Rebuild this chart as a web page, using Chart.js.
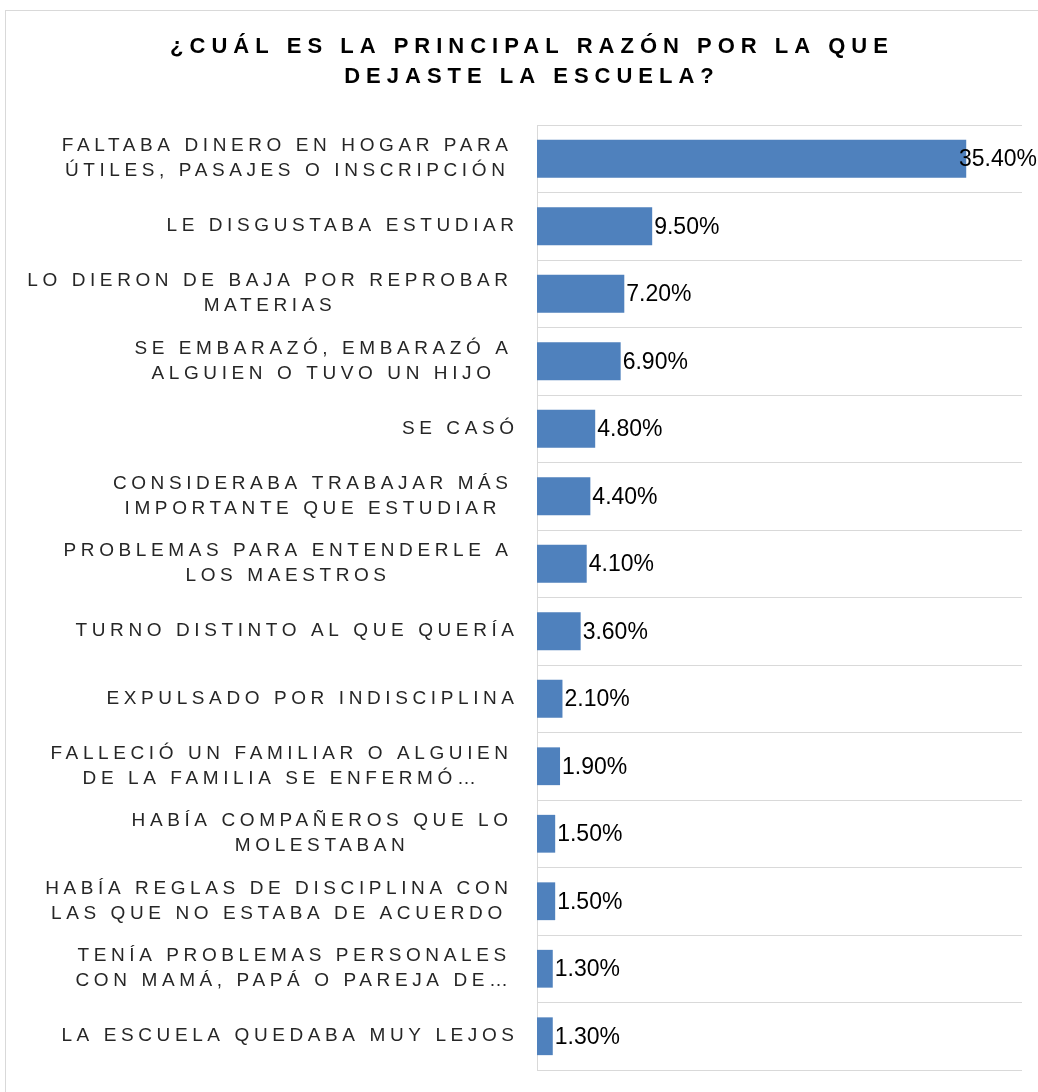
<!DOCTYPE html>
<html>
<head>
<meta charset="utf-8">
<script src="https://cdn.jsdelivr.net/npm/chart.js@4.4.1/dist/chart.umd.min.js"></script>
<style>
  body { margin: 0; background: #fff; }
  #frame { position: absolute; left: 5px; top: 10px; width: 1040px; height: 1090px; border: 1px solid #d9d9d9; }
  #wrap { position: absolute; left: 0; top: 0; width: 1038px; height: 1092px; }
</style>
</head>
<body>
<div id="frame"></div>
<div id="wrap"><canvas id="reasonsChart"></canvas></div>
<script>
const titleLines = ['¿CUÁL ES LA PRINCIPAL RAZÓN POR LA QUE', 'DEJASTE LA ESCUELA?'];

const reasons = [
    ['FALTABA DINERO EN HOGAR PARA', 'ÚTILES, PASAJES O INSCRIPCIÓN'],
    ['LE DISGUSTABA ESTUDIAR'],
    ['LO DIERON DE BAJA POR REPROBAR', 'MATERIAS'],
    ['SE EMBARAZÓ, EMBARAZÓ A', 'ALGUIEN O TUVO UN HIJO'],
    ['SE CASÓ'],
    ['CONSIDERABA TRABAJAR MÁS', 'IMPORTANTE QUE ESTUDIAR'],
    ['PROBLEMAS PARA ENTENDERLE A', 'LOS MAESTROS'],
    ['TURNO DISTINTO AL QUE QUERÍA'],
    ['EXPULSADO POR INDISCIPLINA'],
    ['FALLECIÓ UN FAMILIAR O ALGUIEN', 'DE LA FAMILIA SE ENFERMÓ…'],
    ['HABÍA COMPAÑEROS QUE LO', 'MOLESTABAN'],
    ['HABÍA REGLAS DE DISCIPLINA CON', 'LAS QUE NO ESTABA DE ACUERDO'],
    ['TENÍA PROBLEMAS PERSONALES', 'CON MAMÁ, PAPÁ O PAREJA DE…'],
    ['LA ESCUELA QUEDABA MUY LEJOS']
];

const shares = [35.4, 9.5, 7.2, 6.9, 4.8, 4.4, 4.1, 3.6, 2.1, 1.9, 1.5, 1.5, 1.3, 1.3];

const axisMax = 40;

// draws title, category labels and value labels with letter spacing
const textPlugin = {
    id: 'textPlugin',
    afterDraw(chart) {
        const ctx = chart.ctx;
        const xs = chart.scales.x;
        const ys = chart.scales.y;
        ctx.save();
        ctx.textBaseline = 'middle';
        ctx.textAlign = 'left';

        // title
        const tSp = 6;
        ctx.font = 'bold 22px "Liberation Sans", Arial, sans-serif';
        ctx.letterSpacing = tSp + 'px';
        ctx.fillStyle = '#000';
        titleLines.forEach((t, i) => {
            const w = ctx.measureText(t).width - tSp;
            ctx.fillText(t, 529 - w / 2, 47 + i * 30);
        });

        // category labels
        const sp = 4.6;
        ctx.font = '19px "Liberation Sans", Arial, sans-serif';
        ctx.letterSpacing = sp + 'px';
        ctx.fillStyle = '#262626';
        const lh = 25;
        reasons.forEach((lines, i) => {
            const cy = ys.getPixelForValue(i);
            const right = lines.length > 1 ? 508 : 514;
            const widths = lines.map(l => ctx.measureText(l).width - sp);
            const bw = Math.max(...widths);
            const top = cy - (lines.length - 1) * lh / 2;
            lines.forEach((l, j) => {
                ctx.fillText(l, right - bw / 2 - widths[j] / 2, top + j * lh);
            });
        });

        // value labels
        ctx.font = '23px "Liberation Sans", Arial, sans-serif';
        ctx.letterSpacing = '0px';
        ctx.fillStyle = '#000';
        shares.forEach((v, i) => {
            const txt = v.toFixed(2) + '%';
            const w = ctx.measureText(txt).width;
            const px = xs.getPixelForValue(v);
            const tx = Math.min(px + 2, chart.width - 1 - w);
            ctx.fillText(txt, tx, ys.getPixelForValue(i) + 1);
        });
        ctx.restore();
    }
};

new Chart(document.getElementById('reasonsChart'), {
    type: 'bar',
    data: {
        labels: reasons,
        datasets: [{
            data: shares,
            backgroundColor: '#4f81bd',
            borderWidth: 0,
            barPercentage: 0.56,
            categoryPercentage: 1
        }]
    },
    options: {
        indexAxis: 'y',
        responsive: true,
        maintainAspectRatio: false,
        animation: false,
        layout: { padding: { top: 125, right: 16, bottom: 22, left: 0 } },
        plugins: {
            legend: { display: false },
            title: { display: false },
            tooltip: { enabled: false }
        },
        scales: {
            x: { display: false, min: 0, max: axisMax },
            y: {
                ticks: { display: false },
                grid: { color: '#d9d9d9', lineWidth: 1, offset: true, drawTicks: false },
                border: { color: '#d9d9d9', width: 1 },
                afterFit(scale) { scale.width = 537; }
            }
        }
    },
    plugins: [textPlugin]
});
</script>
</body>
</html>
